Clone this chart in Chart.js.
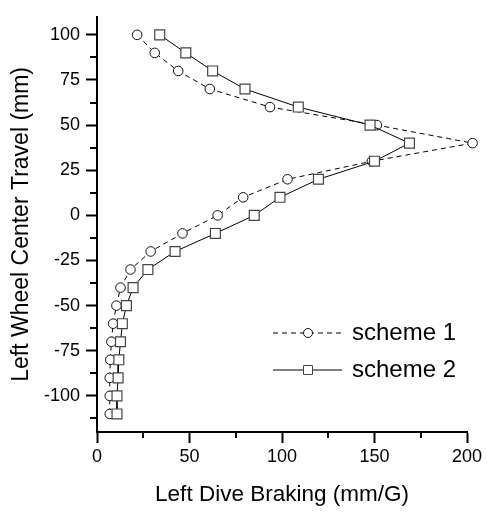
<!DOCTYPE html>
<html>
<head>
<meta charset="utf-8">
<script src="https://cdn.jsdelivr.net/npm/chart.js@4.4.1/dist/chart.umd.min.js"></script>
<style>
  html, body { margin: 0; padding: 0; background: #fff; }
  canvas { display: block; }
</style>
</head>
<body>
<canvas id="chart" width="487" height="513"></canvas>
<script>
// wheel travel (mm)
const travel = [100, 90, 80, 70, 60, 50, 40, 30, 20, 10, 0, -10, -20, -30, -40, -50, -60, -70, -80, -90, -100, -110];
// dive braking (mm/G)
const scheme1 = [21.7, 31.2, 43.9, 61.0, 93.5, 151.3, 203.0, 148.6, 103.0, 79.0, 65.2, 46.2, 29.0, 18.1, 12.7, 10.5, 8.7, 7.8, 7.2, 6.9, 6.9, 6.9];
const scheme2 = [33.9, 48.0, 62.5, 80.0, 108.8, 147.6, 168.9, 150.0, 119.7, 98.9, 85.0, 64.0, 42.2, 27.5, 19.5, 15.9, 13.7, 12.7, 11.8, 11.4, 10.8, 10.8];
const seriesNames = ['scheme 1', 'scheme 2'];

// tick labels
const xTicks = [0, 50, 100, 150, 200];
const yTicks = [-100, -75, -50, -25, 0, 25, 50, 75, 100];
const xMinor = [25, 75, 125, 175];
const yMinor = [-112.5, -87.5, -62.5, -37.5, -12.5, 12.5, 37.5, 62.5, 87.5];

const FONT = "'Liberation Sans', Arial, sans-serif";

function toPoints(xs, ys) {
    return xs.map((x, i) => ({ x: x, y: ys[i] }));
}

// 副目盛りを描く
const minorTicks = {
    id: 'minorTicks',
    afterDraw(chart) {
        const ctx = chart.ctx;
        const xs = chart.scales.x;
        const ys = chart.scales.y;
        const area = chart.chartArea;
        ctx.save();
        ctx.strokeStyle = '#000';
        ctx.lineWidth = 2;
        xMinor.forEach(v => {
            const px = Math.round(xs.getPixelForValue(v));
            ctx.beginPath();
            ctx.moveTo(px, area.bottom);
            ctx.lineTo(px, area.bottom + 6);
            ctx.stroke();
        });
        yMinor.forEach(v => {
            const py = Math.round(ys.getPixelForValue(v));
            ctx.beginPath();
            ctx.moveTo(area.left, py);
            ctx.lineTo(area.left - 7, py);
            ctx.stroke();
        });
        ctx.restore();
    }
};

// 凡例（線＋マーカー）
const lineLegend = {
    id: 'lineLegend',
    afterDraw(chart) {
        const ctx = chart.ctx;
        const x0 = 273, x1 = 342, mx = 308, tx = 352;
        const rows = [333, 370];
        ctx.save();
        chart.data.datasets.forEach((ds, i) => {
            const y = rows[i];
            ctx.strokeStyle = ds.borderColor;
            ctx.lineWidth = 1;
            ctx.setLineDash(ds.borderDash || []);
            ctx.beginPath();
            ctx.moveTo(x0, y);
            ctx.lineTo(x1, y);
            ctx.stroke();
            ctx.setLineDash([]);
            ctx.fillStyle = '#fff';
            ctx.strokeStyle = ds.pointBorderColor;
            ctx.beginPath();
            if (ds.pointStyle === 'circle') {
                ctx.arc(mx, y, 4.5, 0, Math.PI * 2);
            } else {
                ctx.rect(mx - 4.5, y - 4.5, 9, 9);
            }
            ctx.fill();
            ctx.stroke();
            ctx.fillStyle = '#000';
            ctx.font = '24px ' + FONT;
            ctx.textBaseline = 'middle';
            ctx.textAlign = 'left';
            ctx.fillText(ds.label, tx, y);
        });
        ctx.restore();
    }
};

new Chart(document.getElementById('chart').getContext('2d'), {
    type: 'scatter',
    data: {
        datasets: [
            {
                label: seriesNames[0],
                data: toPoints(scheme1, travel),
                showLine: true,
                borderColor: '#000',
                borderWidth: 1,
                borderDash: [5, 4],
                pointStyle: 'circle',
                pointRadius: 4.8,
                pointBorderWidth: 1,
                pointBorderColor: '#111',
                pointBackgroundColor: '#fff',
                clip: false,
                order: 2,
            },
            {
                label: seriesNames[1],
                data: toPoints(scheme2, travel),
                showLine: true,
                borderColor: '#000',
                borderWidth: 1,
                pointStyle: 'rect',
                pointRadius: 7,
                pointBorderWidth: 1.2,
                pointBorderColor: '#444',
                pointBackgroundColor: '#fff',
                clip: false,
                order: 1,
            }
        ]
    },
    options: {
        responsive: false,
        animation: false,
        layout: { padding: { top: 8, right: 20, left: 0, bottom: 0 } },
        plugins: {
            legend: { display: false },
            tooltip: { enabled: false },
        },
        scales: {
            x: {
                type: 'linear',
                min: 0,
                max: 200,
                afterBuildTicks: s => { s.ticks = xTicks.map(v => ({ value: v })); },
                afterFit: s => { s.height = 81; },
                grid: { drawOnChartArea: false, tickLength: 11, tickWidth: 2, tickColor: '#000' },
                border: { color: '#000', width: 2 },
                ticks: { color: '#000', font: { family: FONT, size: 18 }, padding: 3, maxRotation: 0 },
                title: {
                    display: true,
                    text: 'Left Dive Braking (mm/G)',
                    color: '#000',
                    font: { family: FONT, size: 22.5 },
                    padding: { top: 0, bottom: 5 },
                },
            },
            y: {
                type: 'linear',
                min: -120,
                max: 110,
                afterBuildTicks: s => { s.ticks = yTicks.map(v => ({ value: v })); },
                afterFit: s => { s.width = 97; },
                grid: { drawOnChartArea: false, tickLength: 11, tickWidth: 2, tickColor: '#000' },
                border: { color: '#000', width: 2 },
                ticks: { color: '#000', font: { family: FONT, size: 18 }, padding: 6 },
                title: {
                    display: true,
                    text: 'Left Wheel Center Travel (mm)',
                    color: '#000',
                    font: { family: FONT, size: 23 },
                    padding: { top: 8, bottom: 0 },
                },
            }
        }
    },
    plugins: [minorTicks, lineLegend]
});
</script>
</body>
</html>
